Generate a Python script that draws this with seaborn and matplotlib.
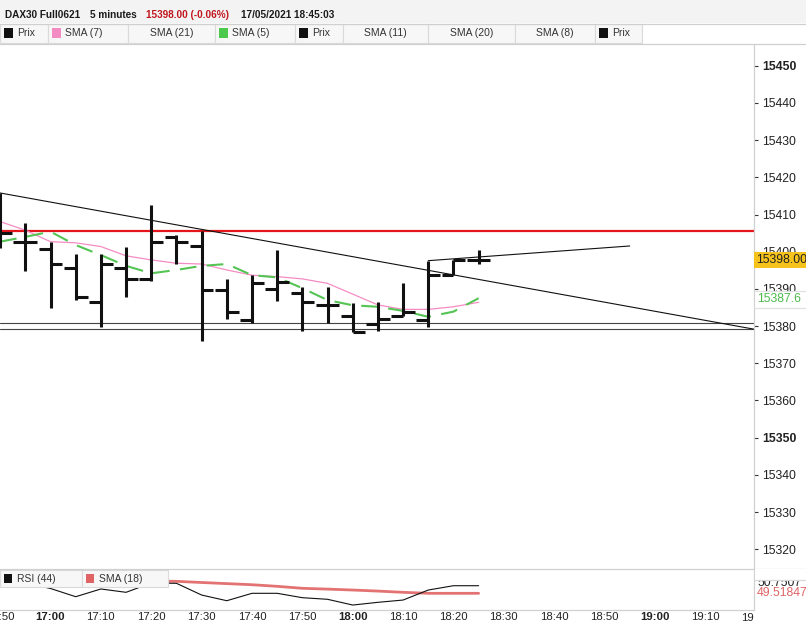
import numpy as np
import pandas as pd
import matplotlib
matplotlib.use("Agg")
import matplotlib.pyplot as plt
import seaborn as sns
from matplotlib.patches import Rectangle
from matplotlib.lines import Line2D
from matplotlib.transforms import Bbox, TransformedBbox, blended_transform_factory

# ---------------- data ----------------
times = ["16:50", "16:55", "17:00", "17:05", "17:10", "17:15", "17:20", "17:25", "17:30", "17:35",
         "17:40", "17:45", "17:50", "17:55", "18:00", "18:05", "18:10", "18:15", "18:20", "18:25"]
opens = [15404.0, 15402.7, 15400.7, 15395.5, 15386.6, 15395.5, 15392.7, 15403.9, 15401.6, 15389.7,
         15381.6, 15389.9, 15388.8, 15385.7, 15382.7, 15380.6, 15382.7, 15381.6, 15393.7, 15397.8]
highs = [15415.8, 15407.6, 15402.7, 15399.4, 15399.4, 15401.4, 15412.6, 15404.5, 15405.7, 15392.7,
         15393.7, 15400.5, 15390.6, 15390.4, 15386.3, 15386.6, 15391.5, 15397.6, 15397.8, 15400.5]
lows = [15401.0, 15394.9, 15384.8, 15387.0, 15379.8, 15387.8, 15392.0, 15396.7, 15376.0, 15381.8,
        15380.8, 15386.8, 15378.8, 15380.8, 15378.5, 15378.8, 15382.7, 15379.8, 15393.7, 15396.7]
closes = [15405.0, 15402.7, 15396.7, 15387.8, 15396.7, 15392.7, 15402.7, 15402.7, 15389.7, 15383.7,
          15391.6, 15391.8, 15386.6, 15385.7, 15378.5, 15381.8, 15383.7, 15393.7, 15397.8, 15397.8]
sma7 = [15408.1, 15405.8, 15402.7, 15402.4, 15401.4, 15398.9, 15397.8, 15396.9, 15396.7, 15395.1,
        15393.7, 15393.3, 15392.7, 15391.5, 15388.6, 15385.7, 15384.5, 15384.5, 15385.2, 15386.4]
sma5 = [15402.7, 15404.0, 15405.4, 15401.8, 15399.1, 15396.2, 15394.2, 15395.1, 15396.2, 15396.7,
        15393.7, 15393.1, 15390.2, 15387.0, 15385.6, 15385.2, 15384.1, 15382.5, 15383.9, 15387.5]
rsi44 = [51.35, 51.19, 50.30, 48.97, 50.22, 49.68, 51.19, 51.14, 49.24, 48.32,
         49.52, 49.52, 48.81, 48.55, 47.62, 48.06, 48.43, 50.05, 50.75, 50.75]
rsi_sma18 = [51.75, 51.72, 51.68, 51.64, 51.60, 51.55, 51.50, 51.46, 51.27, 51.09,
             50.91, 50.65, 50.33, 50.20, 50.05, 49.88, 49.68, 49.52, 49.52, 49.52]

resistance = 15405.7
supports = [15380.8, 15379.1]
trend_down_t = ["16:50", "19:20"]
trend_down_v = [15415.8, 15379.1]
trend_up_t = ["18:15", "18:55"]
trend_up_v = [15397.6, 15401.55]

price_ticks = list(range(15320, 15451, 10))
time_ticks = ["16:50", "17:00", "17:10", "17:20", "17:30", "17:40", "17:50", "18:00",
              "18:10", "18:20", "18:30", "18:40", "18:50", "19:00", "19:10", "19:20"]

last_price = 15398.00
sma5_last = 15387.6
rsi_last = "50.7507"
rsi_sma_last = "49.51847"

header_parts = [("DAX30 Full0621", 5, "#1a1a1a"), ("5 minutes", 90, "#1a1a1a"),
                ("15398.00 (-0.06%)", 146, "#c0161d"), ("17/05/2021 18:45:03", 241, "#1a1a1a")]
legend_cells = [(0, 48, "Prix", "#111111"), (48, 128, "SMA (7)", "#f48cc4"),
                (128, 215, "SMA (21)", None), (215, 295, "SMA (5)", "#4cc94c"),
                (295, 343, "Prix", "#111111"), (343, 428, "SMA (11)", None),
                (428, 515, "SMA (20)", None), (515, 595, "SMA (8)", None),
                (595, 642, "Prix", "#111111")]
rsi_cells = [(0, 82, "RSI (44)", "#111111"), (82, 168, "SMA (18)", "#e06464")]

# ---------------- setup ----------------
sns.set_theme(style="white")
plt.rcParams['font.family'] = ['Liberation Sans', 'DejaVu Sans']

W, H = 806, 627
fig = plt.figure(figsize=(W / 100, H / 100), dpi=100)
fig.patch.set_facecolor("white")


def fx(x):
    return x / W


def fy(y):
    return 1 - y / H


def to_min(s):
    h, m = s.split(":")
    return (int(h) - 17) * 60 + int(m)


t = np.array([to_min(s) for s in times], dtype=float)
df = pd.DataFrame({"t": t, "open": opens, "high": highs, "low": lows, "close": closes,
                   "sma7": sma7, "sma5": sma5, "rsi": rsi44, "rsi_sma": rsi_sma18})

AX_R = 754.3
XLIM = (-10.03, 139.73)

# ---------------- main price axes ----------------
ax = fig.add_axes([0, fy(568), fx(AX_R), (568 - 44) / H])
ax.set_facecolor("white")
ax.set_xlim(*XLIM)
ax.set_ylim(15314.96, 15455.86)
for s in ax.spines.values():
    s.set_visible(False)

ax.axhline(resistance, color="#e4161b", lw=1.6, zorder=2)
for lv in supports:
    ax.axhline(lv, color="#444444", lw=0.8, zorder=2)
ax.plot([to_min(s) for s in trend_down_t], trend_down_v, color="#111111", lw=0.8, zorder=2)
ax.plot([to_min(s) for s in trend_up_t], trend_up_v, color="#111111", lw=0.8, zorder=2)

sns.lineplot(data=df, x="t", y="sma7", ax=ax, color="#f48cc4", linewidth=0.9, zorder=3)
sns.lineplot(data=df, x="t", y="sma5", ax=ax, color="#55c455", linewidth=1.5,
             linestyle=(0, (8, 5)), zorder=3)

bw = 2.35
ax.vlines(df["t"], df["low"], df["high"], color="#111111", lw=2.2, zorder=4)
ax.hlines(df["open"], df["t"] - bw, df["t"], color="#111111", lw=2.2, zorder=4)
ax.hlines(df["close"], df["t"], df["t"] + bw, color="#111111", lw=2.2, zorder=4)

ax.set_xlabel("")
ax.set_ylabel("")
ax.set_xticks([])
ax.yaxis.tick_right()
ax.set_yticks(price_ticks)
ax.set_yticklabels([str(v) for v in price_ticks])
ax.tick_params(axis="y", right=True, left=False, length=3, width=0.8, color="#333333",
               pad=2.5, labelsize=8.8, labelcolor="#222222", direction="out")
for lab, v in zip(ax.get_yticklabels(), price_ticks):
    if v % 100 == 50:
        lab.set_fontweight("bold")

ax.text(5, fy(552), "Données différées de 15 minutes", transform=fig.transFigure,
        fontsize=7, color="#222222", va="center", ha="left")

# ---------------- RSI axes ----------------
ax2 = fig.add_axes([0, fy(609.3), fx(AX_R), 41 / H])
ax2.set_facecolor("white")
ax2.set_xlim(*XLIM)
ax2.set_ylim(46.93, 53.57)
for s in ax2.spines.values():
    s.set_visible(False)
sns.lineplot(data=df, x="t", y="rsi_sma", ax=ax2, color="#e06464", linewidth=2.0, alpha=0.9)
sns.lineplot(data=df, x="t", y="rsi", ax=ax2, color="#111111", linewidth=0.8)
ax2.set_xlabel("")
ax2.set_ylabel("")
ax2.set_yticks([])
main_ticks = time_ticks[:-1]
ax2.set_xticks([to_min(s) for s in main_ticks])
ax2.set_xticklabels(main_ticks)
ax2.tick_params(axis="x", length=0, pad=2.2, labelsize=8.2, labelcolor="#222222")
for lab, s in zip(ax2.get_xticklabels(), main_ticks):
    if s.endswith(":00"):
        lab.set_fontweight("bold")
# last tick label clipped by right column
tr = blended_transform_factory(ax2.transData, fig.transFigure)
txt = ax2.text(to_min(time_ticks[-1]), fy(618), time_ticks[-1], transform=tr, ha="center",
               va="center", fontsize=8.2, color="#222222")
txt.set_clip_on(True)
txt.set_clip_box(TransformedBbox(Bbox.from_extents(0, 0, fx(AX_R), 1), fig.transFigure))

# ---------------- chrome (header, legends, frame lines) ----------------
def frect(x0, y0, x1, y1, fc, ec="none", lw=0.8, z=2):
    fig.add_artist(Rectangle((fx(x0), fy(y1)), fx(x1) - fx(x0), fy(y0) - fy(y1),
                             transform=fig.transFigure, facecolor=fc, edgecolor=ec,
                             linewidth=lw, zorder=z))


def fline(x0, y0, x1, y1, c="#d0d0d0", lw=0.9, z=2.5):
    fig.add_artist(Line2D([fx(x0), fx(x1)], [fy(y0), fy(y1)], transform=fig.transFigure,
                          color=c, lw=lw, zorder=z))


frect(0, 0, W, 23, "#f3f3f3")
fline(0, 23.5, W, 23.5)
for txt_, x, c in header_parts:
    fig.text(fx(x), fy(15), txt_, fontsize=7.2, fontweight="bold", color=c, ha="left",
             va="center", zorder=3)

for x0, x1, label, sq in legend_cells:
    frect(x0, 24, x1, 43, "#f7f7f7", ec="#dadada", lw=0.8)
    if sq is not None:
        frect(x0 + 4, 28.5, x0 + 13, 37.5, sq)
        fig.text(fx(x0 + 17), fy(33.5), label, fontsize=7.5, color="#333333", ha="left",
                 va="center", zorder=3)
    else:
        fig.text(fx((x0 + x1) / 2), fy(33.5), label, fontsize=7.5, color="#333333",
                 ha="center", va="center", zorder=3)
fline(0, 43.5, W, 43.5)

# RSI legend
for x0, x1, label, sq in rsi_cells:
    frect(x0, 570, x1, 587, "#f7f7f7", ec="#dadada", lw=0.8)
    frect(x0 + 4, 574, x0 + 12, 583, sq)
    fig.text(fx(x0 + 17), fy(578.5), label, fontsize=7.5, color="#333333", ha="left",
             va="center", zorder=3)

# frame lines
fline(AX_R, 43.5, AX_R, 610)
fline(0, 568.5, W, 568.5)
fline(0, 609.5, AX_R, 609.5)

# last price label (yellow)
frect(AX_R, 251.7, W, 268.3, "#f6c31c", z=2.6)
fig.text(fx(756.5), fy(260), f"{last_price:.2f}", fontsize=8.8, color="#222222",
         ha="left", va="center", zorder=3)
# SMA(5) label
frect(AX_R + 0.5, 290.7, W, 308.3, "white", z=2.6)
fline(AX_R, 290.7, W, 290.7, c="#e0e0e0", z=2.7)
fline(AX_R, 308.3, W, 308.3, c="#e0e0e0", z=2.7)
fig.text(fx(757), fy(299.5), f"{sma5_last}", fontsize=8.8, color="#4cbb4c",
         ha="left", va="center", zorder=3)

# RSI labels
fig.text(fx(757), fy(583), rsi_last, fontsize=8.8, color="#222222", ha="left",
         va="center", zorder=3)
frect(AX_R + 0.5, 569.2, W, 580.3, "white", z=3.5)
fline(AX_R, 580.3, W, 580.3, c="#d8d8d8", z=3.6)
fig.text(fx(757), fy(592.7), rsi_sma_last, fontsize=8.8, color="#e06464", ha="left",
         va="center", zorder=3)

fig.savefig("out.png", dpi=100, facecolor="white")
